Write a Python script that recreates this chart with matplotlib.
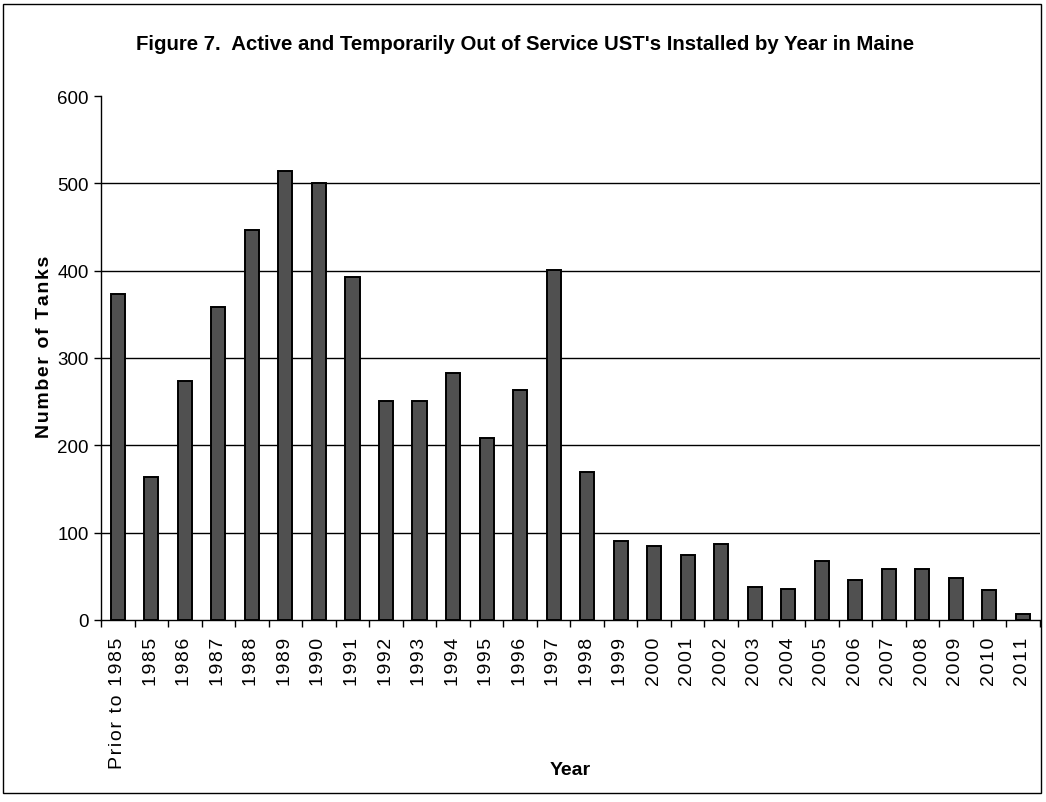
import matplotlib
matplotlib.use("Agg")
import matplotlib.pyplot as plt
from matplotlib.patches import Rectangle
import numpy as np

categories = ["Prior to 1985", "1985", "1986", "1987", "1988", "1989", "1990",
              "1991", "1992", "1993", "1994", "1995", "1996", "1997", "1998",
              "1999", "2000", "2001", "2002", "2003", "2004", "2005", "2006",
              "2007", "2008", "2009", "2010", "2011"]
tanks = [373, 164, 274, 358, 447, 514, 500, 393, 251, 251, 283, 208, 263, 401,
         169, 90, 85, 74, 87, 38, 36, 68, 46, 58, 58, 48, 34, 7]
y_ticks = [0, 100, 200, 300, 400, 500, 600]

plain = ["Liberation Sans", "DejaVu Sans"]
HAIR = "\u200a"


def spaced(s):
    return HAIR.join(s)


fig = plt.figure(figsize=(10.46, 8.03), dpi=100)
ax = fig.add_axes([0.0966, 0.2267, 0.8974, 0.6525])

x = np.arange(len(categories))
ax.bar(x, tanks, width=0.42, color="#505050", edgecolor="black",
       linewidth=1.4, zorder=3)

ax.set_xlim(-0.5, len(categories) - 0.5)
ax.set_ylim(0, 600)

for v in y_ticks[1:-1]:
    ax.axhline(v, color="black", linewidth=1.0, zorder=1)

ax.set_yticks(y_ticks)
ax.set_yticklabels([str(v) for v in y_ticks], family=plain, fontsize=13.5)
ax.tick_params(axis="y", direction="out", length=5, width=1, pad=4)

ax.set_xticks(x)
ax.set_xticklabels([spaced(c) for c in categories], rotation=90,
                   family=plain, fontsize=14)
ax.set_xticks(np.arange(-0.5, len(categories), 1.0), minor=True)
ax.tick_params(axis="x", which="major", length=0, pad=12)
ax.tick_params(axis="x", which="minor", direction="out", length=5, width=1)

for side in ("top", "right"):
    ax.spines[side].set_visible(False)
for side in ("left", "bottom"):
    ax.spines[side].set_linewidth(1.0)
    ax.spines[side].set_color("black")

# Axis titles placed in figure coordinates
fig.text(0.043, 0.568, spaced("Number of Tanks"), rotation=90,
         ha="center", va="center", family=plain, fontsize=14,
         fontweight="bold")
fig.text(0.545, 0.041, "Year", ha="center", va="center", family=plain,
         fontsize=14, fontweight="bold")

fig.text(0.502, 0.944,
         "Figure 7.  Active and Temporarily Out of Service UST's Installed by Year in Maine",
         ha="center", va="center", family=plain, fontsize=14.7,
         fontweight="bold")

fig.patches.append(Rectangle((0.003, 0.011), 0.992, 0.983,
                             transform=fig.transFigure, fill=False,
                             edgecolor="black", linewidth=1.0))

fig.savefig("out.png", dpi=100)
